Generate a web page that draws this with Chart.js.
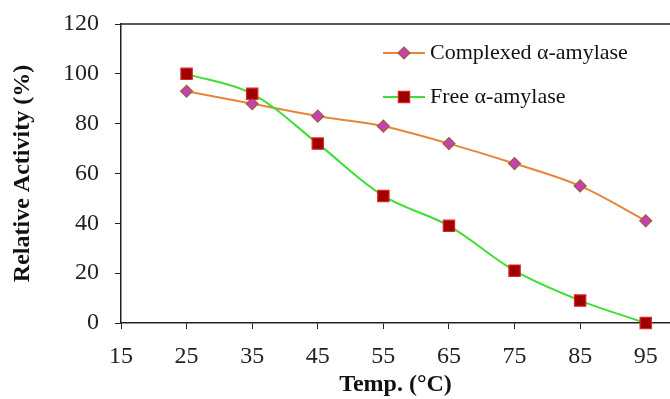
<!DOCTYPE html>
<html>
<head>
<meta charset="utf-8">
<script src="https://cdn.jsdelivr.net/npm/chart.js@4"></script>
<style>
  html, body { margin: 0; padding: 0; background: #fff; }
  #wrap { width: 670px; height: 399px; }
</style>
</head>
<body>
<div id="wrap"><canvas id="chart"></canvas></div>
<script>
/* datos */
const temps = [25, 35, 45, 55, 65, 75, 85, 95];
const complexedActivity = [93, 88, 83, 79, 72, 64, 55, 41];
const freeActivity = [100, 92, 72, 51, 39, 21, 9, 0];
const xTickValues = [15, 25, 35, 45, 55, 65, 75, 85, 95];
const seriesNames = ["Complexed \u03b1-amylase", "Free \u03b1-amylase"];

const SERIF = "'Liberation Serif', 'Times New Roman', serif";
const AXIS_COLOR = "#222";

/* --------------------------------------------
   Leyenda dentro del área del gráfico
-------------------------------------------- */
const insideLegend = {
    id: "insideLegend",
    afterDraw(chart) {
        const ctx = chart.ctx;
        const items = chart.data.datasets;
        const x0 = 383, x1 = 425, textX = 430;
        const rows = [53, 97];
        ctx.save();
        items.forEach((ds, i) => {
            const y = rows[i];
            ctx.strokeStyle = ds.borderColor;
            ctx.lineWidth = 2;
            ctx.beginPath();
            ctx.moveTo(x0, y);
            ctx.lineTo(x1, y);
            ctx.stroke();
            ctx.fillStyle = ds.pointBackgroundColor;
            ctx.strokeStyle = ds.pointBorderColor;
            ctx.lineWidth = ds.pointBorderWidth;
            Chart.helpers.drawPoint(ctx, {
                pointStyle: ds.pointStyle,
                radius: ds.pointRadius,
                borderWidth: ds.pointBorderWidth
            }, (x0 + x1) / 2, y);
            ctx.fillStyle = "#111";
            ctx.font = "22px " + SERIF;
            ctx.textBaseline = "middle";
            ctx.textAlign = "left";
            ctx.fillText(ds.label, textX, y);
        });
        ctx.restore();
    }
};

/* línea superior del marco */
const topBorder = {
    id: "topBorder",
    beforeDatasetsDraw(chart) {
        const { ctx, chartArea } = chart;
        ctx.save();
        ctx.strokeStyle = AXIS_COLOR;
        ctx.lineWidth = 1.5;
        ctx.beginPath();
        ctx.moveTo(chartArea.left, chartArea.top);
        ctx.lineTo(chartArea.right, chartArea.top);
        ctx.stroke();
        ctx.restore();
    }
};

new Chart(document.getElementById("chart"), {
    type: "line",
    data: {
        datasets: [
            {
                label: seriesNames[0],
                data: temps.map((t, i) => ({ x: t, y: complexedActivity[i] })),
                borderColor: "#E8853A",
                borderWidth: 2,
                tension: 0.35,
                clip: false,
                pointStyle: "rectRot",
                pointRadius: 6,
                pointBackgroundColor: "#C73FB4",
                pointBorderColor: "#9A6238",
                pointBorderWidth: 1.2,
                order: 2
            },
            {
                label: seriesNames[1],
                data: temps.map((t, i) => ({ x: t, y: freeActivity[i] })),
                borderColor: "#3FDD35",
                borderWidth: 2,
                tension: 0.35,
                clip: false,
                pointStyle: "rect",
                pointRadius: 8,
                pointBackgroundColor: "#9E0000",
                pointBorderColor: "#E02525",
                pointBorderWidth: 1.2,
                order: 1
            }
        ]
    },
    options: {
        responsive: true,
        maintainAspectRatio: false,
        animation: false,
        devicePixelRatio: 1,
        layout: {
            autoPadding: false,
            padding: { top: 24, right: 0, bottom: 0, left: 0 }
        },
        plugins: {
            legend: { display: false },
            tooltip: { enabled: false }
        },
        scales: {
            x: {
                type: "linear",
                min: 15,
                max: 98.7,
                afterBuildTicks: (scale) => {
                    scale.ticks = xTickValues.map(v => ({ value: v }));
                },
                afterFit: (scale) => {
                    scale.height = 76;
                    scale.paddingLeft = 0;
                    scale.paddingRight = 0;
                },
                grid: {
                    drawOnChartArea: false,
                    drawTicks: true,
                    tickLength: 6,
                    color: AXIS_COLOR
                },
                border: { color: AXIS_COLOR, width: 1.5 },
                ticks: {
                    color: "#222",
                    font: { family: SERIF, size: 24 },
                    padding: 13,
                    maxRotation: 0
                },
                title: {
                    display: true,
                    text: "Temp. (\u00b0C)",
                    color: "#111",
                    font: { family: SERIF, size: 24, weight: "bold" },
                    padding: { top: 0, bottom: 0 }
                }
            },
            y: {
                min: 0,
                max: 120,
                afterFit: (scale) => {
                    scale.width = 121;
                    scale.paddingTop = 0;
                    scale.paddingBottom = 0;
                },
                grid: {
                    drawOnChartArea: false,
                    drawTicks: true,
                    tickLength: 6,
                    color: AXIS_COLOR
                },
                border: { color: AXIS_COLOR, width: 1.5 },
                ticks: {
                    stepSize: 20,
                    color: "#222",
                    font: { family: SERIF, size: 24 },
                    padding: 16
                },
                title: {
                    display: true,
                    text: "Relative Activity (%)",
                    color: "#111",
                    font: { family: SERIF, size: 24, weight: "bold" },
                    padding: { top: 8, bottom: 0 }
                }
            }
        }
    },
    plugins: [topBorder, insideLegend]
});
</script>
</body>
</html>
